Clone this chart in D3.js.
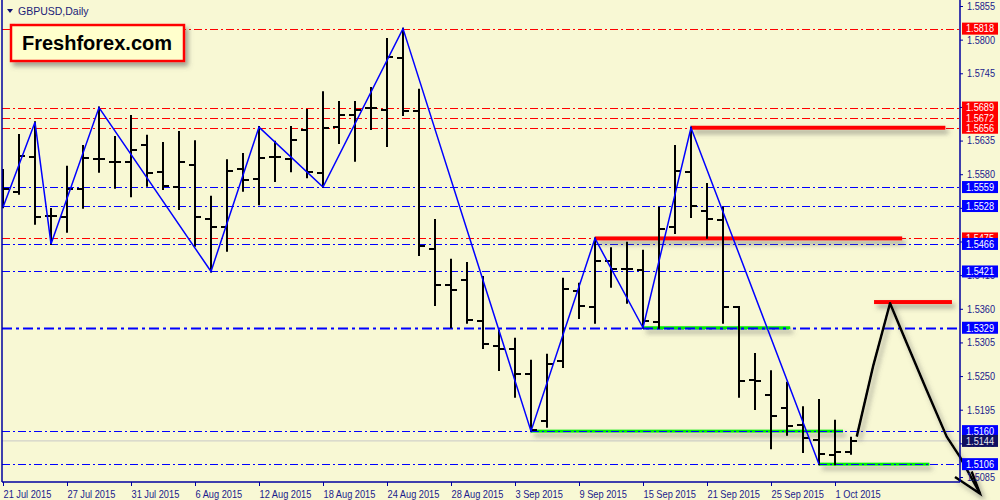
<!DOCTYPE html>
<html><head><meta charset="utf-8">
<script src="https://cdn.jsdelivr.net/npm/d3@7"></script>
<style>body{margin:0;background:#f8f8d4;} svg{display:block}</style>
</head><body><svg id="c" width="1000" height="500"></svg>
<script>
// ---- data ----
const tickIdx = [0,4,8,12,16,20,24,28,32,36,40,44,48,52];
const tickDates = ["21 Jul 2015","27 Jul 2015","31 Jul 2015","6 Aug 2015","12 Aug 2015","18 Aug 2015","24 Aug 2015","28 Aug 2015","3 Sep 2015","9 Sep 2015","15 Sep 2015","21 Sep 2015","25 Sep 2015","1 Oct 2015"];
const openP  = [1.5546,1.5551,1.5608,1.5512,1.5510,1.5556,1.5605,1.5600,1.5600,1.5628,1.5584,1.5559,1.5595,1.5507,1.5494,1.5589,1.5572,1.5608,1.5605,1.5652,1.5582,1.5657,1.5677,1.5688,1.5685,1.5770,1.5683,1.5458,1.5399,1.5407,1.5340,1.5299,1.5294,1.5253,1.5177,1.5275,1.5389,1.5363,1.5438,1.5425,1.5423,1.5338,1.5494,1.5584,1.5520,1.5505,1.5363,1.5244,1.5219,1.5198,1.5170,1.5146,1.5121,1.5126];
const highP  = [1.5587,1.5644,1.5665,1.5523,1.5592,1.5626,1.5689,1.5641,1.5675,1.5643,1.5631,1.5649,1.5634,1.5543,1.5603,1.5613,1.5657,1.5633,1.5657,1.5685,1.5714,1.5698,1.5698,1.5721,1.5801,1.5818,1.5718,1.5505,1.5440,1.5435,1.5412,1.5324,1.5311,1.5275,1.5285,1.5409,1.5401,1.5475,1.5459,1.5468,1.5455,1.5525,1.5626,1.5656,1.5564,1.5525,1.5363,1.5286,1.5258,1.5239,1.5199,1.5211,1.5177,1.5149];
const lowP   = [1.5526,1.5548,1.5499,1.5466,1.5486,1.5525,1.5584,1.5558,1.5544,1.5561,1.5556,1.5523,1.5463,1.5421,1.5455,1.5553,1.5531,1.5569,1.5585,1.5575,1.5559,1.5631,1.5602,1.5654,1.5626,1.5677,1.5448,1.5366,1.5330,1.5337,1.5296,1.5260,1.5216,1.5160,1.5167,1.5265,1.5345,1.5337,1.5396,1.5370,1.5329,1.5329,1.5484,1.5510,1.5476,1.5337,1.5216,1.5196,1.5132,1.5154,1.5126,1.5106,1.5106,1.5123];
const closeP = [1.5556,1.5610,1.5510,1.5512,1.5556,1.5607,1.5605,1.5600,1.5620,1.5582,1.5561,1.5600,1.5510,1.5494,1.5585,1.5571,1.5607,1.5608,1.5636,1.5584,1.5656,1.5677,1.5685,1.5688,1.5772,1.5683,1.5463,1.5399,1.5391,1.5342,1.5302,1.5294,1.5253,1.5162,1.5270,1.5392,1.5365,1.5438,1.5425,1.5425,1.5340,1.5490,1.5585,1.5528,1.5507,1.5363,1.5242,1.5242,1.5185,1.5168,1.5149,1.5123,1.5126,1.5144];
const zigIdx  = [0,2,3,6,13,16,20,25,33,37,40,43,51];
const zigType = ["L","H","L","H","L","H","L","H","L","H","L","H","L"];
const yTicks = [1.5855,1.5800,1.5745,1.5690,1.5635,1.5580,1.5525,1.5470,1.5415,1.5360,1.5305,1.5250,1.5195,1.5140,1.5085];
const redLevels  = [1.5818,1.5689,1.5672,1.5656,1.5475];
const blueLevels = [1.5559,1.5528,1.5466,1.5421,1.5329,1.5160,1.5106];
const boldLevel = 1.5329;
const bidPrice = 1.5144;
const segFrom  = [43,37,40,33,51,54.44];
const segTo    = [58.9,56.2,49.2,52.5,57.9,59.31];
const segPrice = [1.5656,1.5475,1.5329,1.5160,1.5106,1.5371];
const segColor = ["#ff0000","#ff0000","#00ee00","#00ee00","#00ee00","#ff0000"];
const projIdx   = [53.36,54.4,55.44,56.48,57.73,58.98,59.81,61.06];
const projPrice = [1.5151,1.5268,1.5369,1.5304,1.5227,1.5151,1.5118,1.5058];
const arrowIdx   = [59.5,61.06,60.54];
const arrowPrice = [1.5085,1.5058,1.5094];

// ---- chart ----
const svg = d3.select("#c");
const L = 2, R = 960, B = 482;
const x = d3.scaleLinear().domain([0,53]).range([3,851]);
const y = d3.scaleLinear().domain([1.5085,1.5855]).range([477,6]);
const navy = "#1a1a8c";
const font = "'Liberation Sans', Arial, sans-serif";

const defs = svg.append("defs");
const f = defs.append("filter").attr("id","sh").attr("filterUnits","userSpaceOnUse")
  .attr("x",0).attr("y",0).attr("width",1000).attr("height",500);
f.append("feDropShadow").attr("dx",3).attr("dy",4).attr("stdDeviation",2.5).attr("flood-color","#555").attr("flood-opacity",0.55);
const clip = defs.append("clipPath").attr("id","pc");
clip.append("rect").attr("x",L).attr("y",0).attr("width",R-L).attr("height",B);

svg.append("rect").attr("width",1000).attr("height",500).attr("fill","#f8f8d4");

const plot = svg.append("g").attr("clip-path","url(#pc)");

// bid line
plot.append("line").attr("x1",L).attr("x2",R).attr("y1",y(bidPrice)).attr("y2",y(bidPrice))
  .attr("stroke","#c8c8c8").attr("stroke-width",1);

function level(sel, p, color, x1, x2){
  const bold = p===boldLevel;
  sel.append("line").attr("x1",x1).attr("x2",x2).attr("y1",Math.round(y(p))+0.5).attr("y2",Math.round(y(p))+0.5)
    .attr("stroke",color).attr("stroke-width",bold?2:1).attr("stroke-dasharray",bold?"10,4,3,4":"8,3,2,3");
}
redLevels.forEach(p=>level(plot,p,"#ff0000",L,R));
blueLevels.forEach(p=>level(plot,p,"#0000ff",L,R));

// thick segments with shadow
const sg = plot.append("g").attr("filter","url(#sh)");
segPrice.forEach((p,i)=>{
  const h = segColor[i]==="#ff0000"?4:3;
  sg.append("rect").attr("x",x(segFrom[i])).attr("width",x(segTo[i])-x(segFrom[i]))
    .attr("y",y(p)-h/2).attr("height",h).attr("fill",segColor[i]);
});
// dashed lines over green segments
segPrice.forEach((p,i)=>{
  if(segColor[i]==="#00ee00") level(plot,p,"#0000ff",x(segFrom[i]),x(segTo[i]));
});

// OHLC bars
const g = plot.append("g").attr("stroke","#000").attr("stroke-width",2);
openP.forEach((o,i)=>{
  const xi = x(i);
  g.append("line").attr("x1",xi).attr("x2",xi).attr("y1",y(highP[i])-1).attr("y2",y(lowP[i])+1);
  g.append("line").attr("x1",xi-6).attr("x2",xi).attr("y1",Math.round(y(o))).attr("y2",Math.round(y(o)));
  g.append("line").attr("x1",xi).attr("x2",xi+6).attr("y1",Math.round(y(closeP[i]))).attr("y2",Math.round(y(closeP[i])));
});

// zigzag
const zz = zigIdx.map((k,j)=>[x(k), y(zigType[j]==="H"?highP[k]:lowP[k])]);
plot.append("path").attr("d",d3.line()(zz)).attr("fill","none").attr("stroke","#0000ff").attr("stroke-width",1.5);

// projection
const proj = projIdx.map((k,j)=>[x(k),y(projPrice[j])]);
const arr = arrowIdx.map((k,j)=>[x(k),y(arrowPrice[j])]);
const pg = svg.append("g").attr("filter","url(#sh)");
pg.append("path").attr("d",d3.line()(proj)).attr("fill","none").attr("stroke","#000").attr("stroke-width",2.5).attr("stroke-linejoin","round");
pg.append("path").attr("d",d3.line()(arr)).attr("fill","none").attr("stroke","#000").attr("stroke-width",2.5).attr("stroke-linejoin","miter");

// frame
svg.append("line").attr("x1",L).attr("x2",L).attr("y1",0).attr("y2",B).attr("stroke","#0000a0").attr("stroke-width",1.5);
svg.append("line").attr("x1",R).attr("x2",R).attr("y1",0).attr("y2",B).attr("stroke","#0000a0").attr("stroke-width",1.5);
svg.append("line").attr("x1",L).attr("x2",R).attr("y1",B).attr("y2",B).attr("stroke","#0000a0").attr("stroke-width",1.5);

// y axis
const ya = svg.append("g").attr("transform",`translate(${R},0)`)
  .call(d3.axisRight(y).tickValues(yTicks).tickFormat(d3.format(".4f")).tickSize(3).tickPadding(4));
ya.select(".domain").remove();
ya.selectAll("line").attr("stroke","#0000a0");
ya.selectAll("text").attr("fill",navy).attr("font-family",font).attr("font-size",10.5).attr("textLength",28).attr("lengthAdjust","spacingAndGlyphs");

// x axis
const xa = svg.append("g").attr("transform",`translate(0,${B})`)
  .call(d3.axisBottom(x).tickValues(tickIdx).tickFormat((d,i)=>tickDates[i]).tickSize(4).tickPadding(3));
xa.select(".domain").remove();
xa.selectAll("line").attr("stroke","#0000a0");
xa.selectAll("text").attr("fill",navy).attr("font-family",font).attr("font-size",10.5).attr("text-anchor","start").attr("dy","0.9em")
  .each(function(){ const w=this.getComputedTextLength(); d3.select(this).attr("textLength",w*0.88).attr("lengthAdjust","spacingAndGlyphs"); });

// price labels
function priceBox(p, fill, txtColor){
  const yy = y(p);
  svg.append("rect").attr("x",962).attr("y",yy-6).attr("width",36).attr("height",12).attr("fill",fill);
  svg.append("text").attr("x",966).attr("y",yy).attr("dy","0.36em").attr("fill",txtColor)
    .attr("font-family",font).attr("font-size",10.5).attr("textLength",28).attr("lengthAdjust","spacingAndGlyphs")
    .text(d3.format(".4f")(p));
}
redLevels.forEach(p=>priceBox(p,"#ff0000","#ffffff"));
blueLevels.forEach(p=>priceBox(p,"#0000ff","#ffffff"));
priceBox(bidPrice,"#101060","#e8e8e8");

// title
svg.append("path").attr("d","M7,9 L13,9 L10,13 Z").attr("fill","#101070");
svg.append("text").attr("x",18).attr("y",15).attr("fill","#202078").attr("font-family",font).attr("font-size",10.5)
  .text("GBPUSD,Daily");

// logo
const lg = svg.append("g");
lg.append("rect").attr("x",11).attr("y",25).attr("width",173).attr("height",36).attr("fill","#ffffcc")
  .attr("stroke","#ff0000").attr("stroke-width",2.5).attr("filter","url(#sh)");
lg.append("text").attr("x",97).attr("y",50).attr("text-anchor","middle").attr("font-family",font).attr("font-weight","bold")
  .attr("font-size",20).attr("fill","#000").text("Freshforex.com");
</script></body></html>
